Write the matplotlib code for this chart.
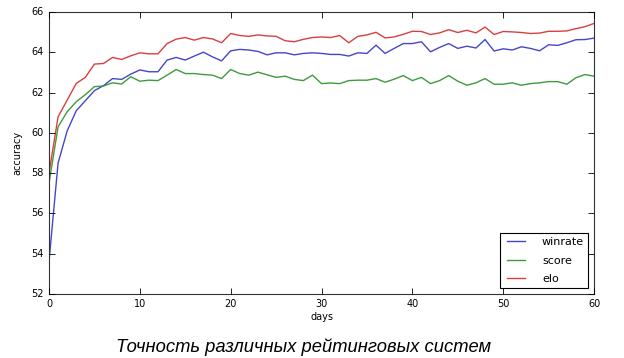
import numpy as np
import matplotlib
matplotlib.use("Agg")
from matplotlib import pyplot as plt

# accuracy per day for each rating system
days = list(range(61))

winrate = [53.6, 58.5, 60.1, 61.1, 61.6, 62.1, 62.35, 62.7, 62.66, 62.92,
           63.13, 63.04, 63.04, 63.62, 63.75, 63.62, 63.82, 64.01, 63.78, 63.58,
           64.08, 64.15, 64.12, 64.05, 63.88, 63.98, 63.98, 63.88, 63.95, 63.98,
           63.95, 63.9, 63.9, 63.82, 63.98, 63.95, 64.36, 63.95, 64.2, 64.44,
           64.44, 64.53, 64.03, 64.25, 64.44, 64.2, 64.31, 64.22, 64.64, 64.07,
           64.18, 64.12, 64.28, 64.2, 64.08, 64.38, 64.35, 64.48, 64.63, 64.64,
           64.71]

score = [57.5, 60.3, 61.05, 61.55, 61.9, 62.3, 62.33, 62.49, 62.43, 62.79,
         62.57, 62.62, 62.6, 62.87, 63.15, 62.95, 62.95, 62.9, 62.87, 62.7,
         63.15, 62.95, 62.87, 63.02, 62.89, 62.76, 62.82, 62.66, 62.6, 62.87,
         62.45, 62.48, 62.45, 62.6, 62.62, 62.62, 62.7, 62.52, 62.67, 62.85,
         62.6, 62.76, 62.45, 62.6, 62.85, 62.57, 62.37, 62.49, 62.7, 62.42,
         62.42, 62.49, 62.37, 62.45, 62.49, 62.55, 62.55, 62.42, 62.74, 62.9,
         62.82]

elo = [58.0, 60.8, 61.63, 62.46, 62.76, 63.42, 63.45, 63.75, 63.65, 63.83,
       63.98, 63.93, 63.93, 64.44, 64.66, 64.74, 64.61, 64.74, 64.67, 64.48,
       64.94, 64.84, 64.8, 64.87, 64.82, 64.8, 64.58, 64.53, 64.65, 64.74,
       64.77, 64.74, 64.84, 64.48, 64.8, 64.87, 65.0, 64.72, 64.77, 64.9,
       65.05, 65.04, 64.89, 64.97, 65.13, 64.99, 65.1, 64.97, 65.26, 64.89,
       65.04, 65.02, 64.99, 64.94, 64.96, 65.05, 65.05, 65.07, 65.18, 65.28,
       65.44]

series_names = ["winrate", "score", "elo"]
series_colors = ["#4646cc", "#3f9a3f", "#d84040"]

if __name__ == '__main__':
    plt.style.use('classic')

    fig = plt.figure(figsize=(6.24, 3.58), dpi=100, facecolor='white')
    ax = fig.add_axes([0.0785, 0.179, 0.8735, 0.787])

    for values, name, color in zip([winrate, score, elo], series_names, series_colors):
        ax.plot(days, values, color=color, linewidth=1.0, label=name)

    ax.set_xlim(0, 60)
    ax.set_ylim(52, 66)
    ax.set_xticks(range(0, 61, 10))
    ax.set_yticks(range(52, 67, 2))
    ax.tick_params(labelsize=7, length=4, width=0.6)
    for spine in ax.spines.values():
        spine.set_linewidth(0.8)
        spine.set_color('#333333')

    ax.set_xlabel("days", fontsize=7, labelpad=2)
    ax.set_ylabel("accuracy", fontsize=7, labelpad=6)

    leg = ax.legend(loc='lower right', fontsize=8, handlelength=2.2,
                    borderaxespad=0.5, labelspacing=0.75, handletextpad=1.2)
    leg.get_frame().set_linewidth(0.8)

    fig.text(0.487, 0.031, "Точность различных рейтинговых систем",
             ha='center', va='center', fontsize=13.2, style='italic',
             family='Liberation Sans')

    fig.savefig("out.png", dpi=100, facecolor='white')
